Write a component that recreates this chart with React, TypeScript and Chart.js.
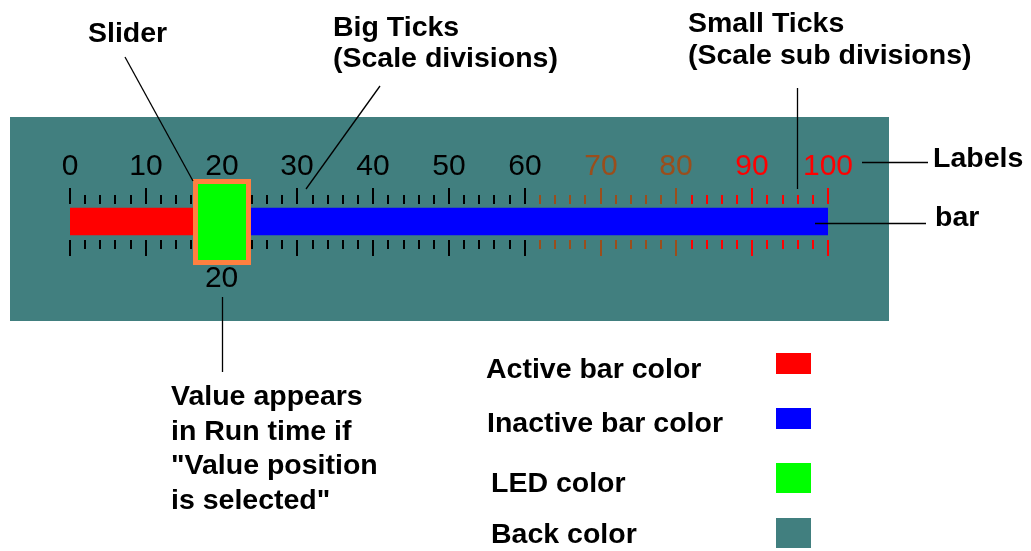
import React, { useEffect, useRef } from 'react';
import { Chart, registerables } from 'chart.js';

Chart.register(...registerables);

// ---- data ----
const categories = ['Slider'];
const scaleRange = [0, 100];
const sliderValue = [20];
const activeBar = [0, 20];
const inactiveBar = [20, 100];
const minorStep = [2];
const majorStep = [10];
const zoneLimits = [60, 80, 100];
const zoneColors = ['#000000', '#9A4E1C', '#FF0000'];

// ---- styles ----
const ACTIVE = '#FF0000';
const INACTIVE = '#0000FF';
const LED = '#00FF00';
const BACK = '#417F7F';
const SLIDER_BORDER = '#FF8040';
const BAR_THICK = 27;

function zoneColor(v: number): string {
  for (let i = 0; i < zoneLimits.length; i++) {
    if (v <= zoneLimits[i] + 1e-9) return zoneColors[i];
  }
  return zoneColors[zoneColors.length - 1];
}

const sliderPlugin = {
  id: 'sliderDecor',
  beforeDraw(chart: any) {
    const ctx = chart.ctx;
    ctx.save();
    ctx.fillStyle = '#FFFFFF';
    ctx.fillRect(0, 0, chart.width, chart.height);
    ctx.fillStyle = BACK;
    ctx.fillRect(10, 117, 879, 204);
    ctx.restore();
  },
  afterDatasetsDraw(chart: any) {
    const ctx = chart.ctx;
    const xs = chart.scales.x;
    const area = chart.chartArea;
    const mid = (area.top + area.bottom) / 2;
    const barTop = mid - BAR_THICK / 2;
    const barBottom = mid + BAR_THICK / 2;
    ctx.save();

    // ticks
    let ticks: number[] = (xs.ticks || []).map((t: any) => t.value);
    if (!ticks.length) {
      ticks = [];
      for (let v = scaleRange[0]; v <= scaleRange[1]; v += minorStep[0]) ticks.push(v);
    }
    ctx.font = '30px "Liberation Sans", Arial, sans-serif';
    ctx.textAlign = 'center';
    ctx.textBaseline = 'alphabetic';
    for (const v of ticks) {
      const x = Math.round(xs.getPixelForValue(v));
      const major = Math.abs(v % majorStep[0]) < 1e-9;
      const col = zoneColor(v);
      ctx.fillStyle = col;
      const topEnd = barTop - 4;
      const botStart = barBottom + 5;
      const len = major ? 16 : 9;
      ctx.fillRect(x - 1, topEnd - len, 2, len);
      ctx.fillRect(x - 1, botStart, 2, len);
      if (major) {
        ctx.fillText(String(v), x, 175);
      }
    }

    // slider
    const sx = xs.getPixelForValue(sliderValue[0]);
    const w = 58;
    const h = 86;
    const b = 5;
    ctx.fillStyle = SLIDER_BORDER;
    ctx.fillRect(Math.round(sx - w / 2), Math.round(mid - h / 2), w, h);
    ctx.fillStyle = LED;
    ctx.fillRect(Math.round(sx - w / 2) + b, Math.round(mid - h / 2) + b, w - 2 * b, h - 2 * b);

    // value text
    ctx.fillStyle = '#000000';
    ctx.fillText(String(sliderValue[0]), sx, 287);

    // leader lines
    ctx.strokeStyle = '#000000';
    ctx.lineWidth = 1.3;
    const line = (x1: number, y1: number, x2: number, y2: number) => {
      ctx.beginPath();
      ctx.moveTo(x1, y1);
      ctx.lineTo(x2, y2);
      ctx.stroke();
    };
    line(125, 57, Math.round(sx - w / 2), Math.round(mid - h / 2) + 2);
    line(380, 86, 306, 189);
    const stx = Math.round(xs.getPixelForValue(96)) - 0.5;
    line(stx, 88, stx, 189);
    line(862, 162.5, 928, 162.5);
    line(815, 223.5, 926, 223.5);
    line(Math.round(sx) + 0.5, 297, Math.round(sx) + 0.5, 372);
    ctx.restore();
  },
};

const textStyle: React.CSSProperties = {
  position: 'absolute',
  fontFamily: '"Liberation Sans", Arial, sans-serif',
  fontWeight: 'bold',
  fontSize: '28.5px',
  lineHeight: '35px',
  color: '#000',
  whiteSpace: 'pre',
  margin: 0,
};

const swatch = (left: number, top: number, h: number, color: string): React.CSSProperties => ({
  position: 'absolute',
  left,
  top,
  width: 35,
  height: h,
  background: color,
});

export default function App() {
  const ref = useRef<HTMLCanvasElement>(null);
  useEffect(() => {
    if (!ref.current) return;
    const chart = new Chart(ref.current, {
      type: 'bar',
      data: {
        labels: categories,
        datasets: [
          {
            label: 'Active bar',
            data: [activeBar as any],
            backgroundColor: ACTIVE,
            borderWidth: 0,
            barThickness: BAR_THICK,
            grouped: false,
          } as any,
          {
            label: 'Inactive bar',
            data: [inactiveBar as any],
            backgroundColor: INACTIVE,
            borderWidth: 0,
            barThickness: BAR_THICK,
            grouped: false,
          } as any,
        ],
      },
      options: {
        indexAxis: 'y',
        responsive: false,
        animation: false,
        events: [],
        layout: { padding: { left: 70, right: 203, top: 178, bottom: 286 } },
        plugins: { legend: { display: false }, tooltip: { enabled: false } },
        scales: {
          x: {
            type: 'linear',
            display: false,
            min: scaleRange[0],
            max: scaleRange[1],
            ticks: { stepSize: minorStep[0], maxTicksLimit: 1000, autoSkip: false },
          },
          y: { type: 'category', display: false },
        },
      } as any,
      plugins: [sliderPlugin],
    });
    return () => chart.destroy();
  }, []);

  return (
    <div style={{ position: 'fixed', left: 0, top: 0, width: 1031, height: 551, background: '#fff', overflow: 'hidden' }}>
      <canvas ref={ref} width={1031} height={551} style={{ position: 'absolute', left: 0, top: 0 }} />
      <div style={{ ...textStyle, left: 88, top: 15 }}>Slider</div>
      <div style={{ ...textStyle, left: 333, top: 11, lineHeight: '31px' }}>{'Big Ticks\n(Scale divisions)'}</div>
      <div style={{ ...textStyle, left: 688, top: 6, lineHeight: '32px' }}>{'Small Ticks\n(Scale sub divisions)'}</div>
      <div style={{ ...textStyle, left: 933, top: 140 }}>Labels</div>
      <div style={{ ...textStyle, left: 935, top: 199 }}>bar</div>
      <div style={{ ...textStyle, left: 171, top: 378, lineHeight: '34.7px' }}>
        {'Value appears\nin Run time if\n"Value position\nis selected"'}
      </div>
      <div style={{ ...textStyle, left: 486, top: 351 }}>Active bar color</div>
      <div style={{ ...textStyle, left: 487, top: 405 }}>Inactive bar color</div>
      <div style={{ ...textStyle, left: 491, top: 465 }}>LED color</div>
      <div style={{ ...textStyle, left: 491, top: 516 }}>Back color</div>
      <div style={swatch(776, 353, 21, ACTIVE)} />
      <div style={swatch(776, 408, 21, INACTIVE)} />
      <div style={swatch(776, 463, 30, LED)} />
      <div style={swatch(776, 518, 30, BACK)} />
    </div>
  );
}
